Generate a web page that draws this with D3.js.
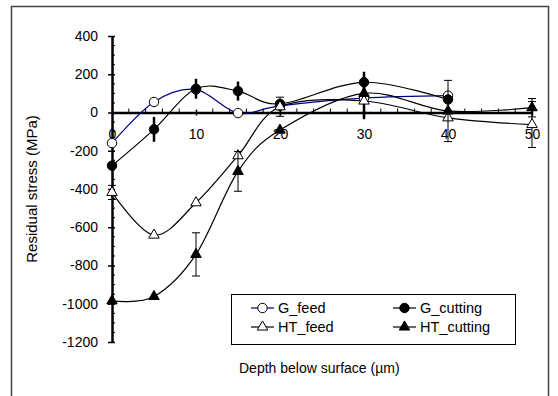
<!DOCTYPE html>
<meta charset="utf-8">
<title>Residual stress vs depth</title>
<style>
    body { margin: 0; background: #fff; }
    svg { display: block; font-family: "Liberation Sans", Arial, sans-serif; }
    .axis path, .axis line { stroke: #000; }
    .axis text { fill: #000; font-size: 14px; }
</style>
<svg width="558" height="396"></svg>
<script src="https://d3js.org/d3.v7.min.js"></script>
<script>

    // data
    var depth = [0, 5, 10, 15, 20, 30, 40, 50];

    var gFeed = [-160, 55, 120, -3, 35, 75, 88];
    var gFeedErr = [0, 0, 0, 0, 0, 110, 0];

    var gCutting = [-278, -88, 124, 112, 45, 158, 68];
    var gCuttingErr = [0, 65, 52, 50, 0, 55, 0];

    var htFeed = [-418, -641, -472, -226, 30, 60, -28, -63];
    var htFeedErr = [37, 0, 0, 0, 50, 0, 0, 120];

    var htCutting = [-985, -962, -742, -308, -92, 100, 8, 25];
    var htCuttingErr = [0, 0, 113, 104, 0, 0, 160, 48];

    var seriesNames = ["G_feed", "G_cutting", "HT_feed", "HT_cutting"];
    var yTicks = [400, 200, 0, -200, -400, -600, -800, -1000, -1200];
    var xTicks = [0, 10, 20, 30, 40, 50];

    //begin: layout conf.
    var svg = d3.select("svg"),
        plot = {left: 112, right: 532, top: 36, bottom: 342};
    //end: layout conf.

    var x = d3.scaleLinear().domain([0, 50]).range([plot.left, plot.right]),
        y = d3.scaleLinear().domain([-1200, 400]).range([plot.bottom, plot.top]);

    // plain labels: ascii hyphen, no thousands separator
    var plain = function(d) { return String(d); };

    function pack(vals, errs) {
        return vals.map(function(v, i) { return {x: depth[i], y: v, e: errs[i]}; });
    }

    var series = [
        {name: seriesNames[0], data: pack(gFeed, gFeedErr), line: "#000080", shape: "circle", fill: "#fff", caps: false},
        {name: seriesNames[1], data: pack(gCutting, gCuttingErr), line: "#000", shape: "circle", fill: "#000", caps: false},
        {name: seriesNames[2], data: pack(htFeed, htFeedErr), line: "#000", shape: "triangle", fill: "#fff", caps: true},
        {name: seriesNames[3], data: pack(htCutting, htCuttingErr), line: "#000", shape: "triangle", fill: "#000", caps: true}
    ];

    // outer chart frame
    svg.append("rect")
        .attr("x", 11.5).attr("y", 6.5)
        .attr("width", 537).attr("height", 400)
        .attr("fill", "none")
        .attr("stroke", "#444")
        .attr("stroke-width", 1.5);

    // y axis
    var yAxis = svg.append("g")
        .attr("class", "axis")
        .attr("transform", "translate(" + plot.left + ",0)")
        .call(d3.axisLeft(y).tickValues(yTicks).tickFormat(plain)
            .tickSize(4).tickPadding(10).tickSizeOuter(0));
    yAxis.select(".domain").attr("stroke-width", 2.5);
    yAxis.selectAll(".tick line").attr("x1", 3).attr("stroke-width", 1.5);

    svg.append("g")
        .selectAll("line")
        .data(d3.range(-1200, 401, 50).filter(function(v) { return v % 200 !== 0; }))
        .join("line")
        .attr("x1", plot.left).attr("x2", plot.left + 3)
        .attr("y1", function(d) { return y(d); })
        .attr("y2", function(d) { return y(d); })
        .attr("stroke", "#000");

    // x axis sits at y = 0
    var xAxis = svg.append("g")
        .attr("class", "axis")
        .attr("transform", "translate(0," + y(0) + ")")
        .call(d3.axisBottom(x).tickValues(xTicks).tickFormat(plain)
            .tickSize(3).tickPadding(14).tickSizeOuter(0));
    xAxis.select(".domain").attr("stroke-width", 2.5);
    xAxis.selectAll(".tick line").attr("y1", -3).attr("stroke-width", 1.5);

    svg.append("g")
        .selectAll("line")
        .data(d3.range(0, 51, 2).filter(function(v) { return v % 10 !== 0; }))
        .join("line")
        .attr("x1", function(d) { return x(d); })
        .attr("x2", function(d) { return x(d); })
        .attr("y1", y(0)).attr("y2", y(0) - 4)
        .attr("stroke", "#000");

    // axis titles
    svg.append("text")
        .attr("x", 239).attr("y", 373)
        .attr("font-size", 14)
        .text("Depth below surface (\u00b5m)");

    svg.append("text")
        .attr("transform", "translate(37," + ((plot.top + plot.bottom) / 2) + ") rotate(-90)")
        .attr("text-anchor", "middle")
        .attr("font-size", 15)
        .text("Residual stress (MPa)");

    // series
    var line = d3.line()
        .x(function(d) { return x(d.x); })
        .y(function(d) { return y(d.y); })
        .curve(d3.curveCardinal.tension(0));

    var circle = d3.symbol().type(d3.symbolCircle).size(70),
        triangle = d3.symbol().type(d3.symbolTriangle).size(48);

    function drawMarker(sel, s) {
        sel.append("path")
            .attr("d", s.shape === "circle" ? circle() : triangle())
            .attr("fill", s.fill)
            .attr("stroke", "#000")
            .attr("stroke-width", 1);
    }

    series.forEach(function(s) {
        var g = svg.append("g");

        g.append("path")
            .datum(s.data)
            .attr("d", line)
            .attr("fill", "none")
            .attr("stroke", s.line)
            .attr("stroke-width", 1.2);

        var bars = s.data.filter(function(d) { return d.e > 0; });
        g.selectAll(".err")
            .data(bars)
            .join("line")
            .attr("x1", function(d) { return x(d.x); })
            .attr("x2", function(d) { return x(d.x); })
            .attr("y1", function(d) { return y(d.y + d.e); })
            .attr("y2", function(d) { return y(d.y - d.e); })
            .attr("stroke", "#000")
            .attr("stroke-width", s.caps ? 1 : 2.5);

        if (s.caps) {
            bars.forEach(function(d) {
                [d.y + d.e, d.y - d.e].forEach(function(v) {
                    g.append("line")
                        .attr("x1", x(d.x) - 4).attr("x2", x(d.x) + 4)
                        .attr("y1", y(v)).attr("y2", y(v))
                        .attr("stroke", "#000");
                });
            });
        }

        g.selectAll(".mark")
            .data(s.data)
            .join("g")
            .attr("transform", function(d) { return "translate(" + x(d.x) + "," + y(d.y) + ")"; })
            .each(function() { drawMarker(d3.select(this), s); });
    });

    // legend
    var legend = svg.append("g");
    legend.append("rect")
        .attr("x", 231.5).attr("y", 294.5)
        .attr("width", 284).attr("height", 50)
        .attr("fill", "#fff")
        .attr("stroke", "#000");

    var legendPos = [[251, 308], [393, 308], [251, 327], [393, 327]];
    series.forEach(function(s, i) {
        var p = legendPos[i],
            item = legend.append("g").attr("transform", "translate(" + p + ")");
        item.append("line")
            .attr("x1", 0).attr("x2", 23)
            .attr("stroke", s.line)
            .attr("stroke-width", 1.2);
        drawMarker(item.append("g").attr("transform", "translate(11.5,0)"), s);
        item.append("text")
            .attr("x", 27).attr("dy", "0.35em")
            .attr("font-size", 14.5)
            .text(s.name);
    });

</script>
